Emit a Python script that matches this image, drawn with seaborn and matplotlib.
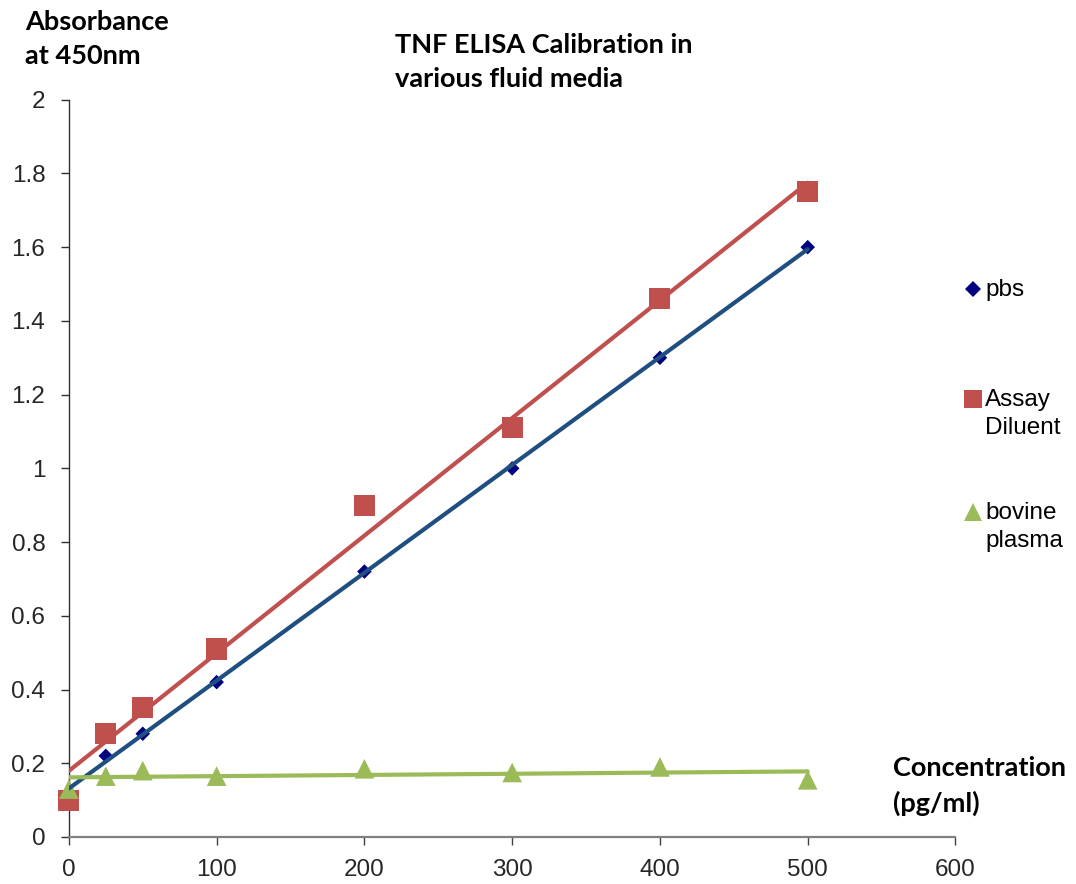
import numpy as np
import pandas as pd
import matplotlib
matplotlib.use("Agg")
import matplotlib.pyplot as plt
from matplotlib.lines import Line2D
import seaborn as sns

# Standard concentrations (pg/ml)
concentration = [0, 25, 50, 100, 200, 300, 400, 500]

# Absorbance at 450 nm for each medium
pbs = [0.12, 0.22, 0.28, 0.42, 0.72, 1.00, 1.30, 1.60]
assay_diluent = [0.10, 0.28, 0.35, 0.51, 0.90, 1.11, 1.46, 1.75]
bovine_plasma = [0.13, 0.165, 0.18, 0.165, 0.185, 0.175, 0.19, 0.155]

series_names = ["pbs", "Assay\nDiluent", "bovine\nplasma"]

sns.set_style("white")
plt.rcParams["font.family"] = ["Liberation Sans", "DejaVu Sans"]

fig = plt.figure(figsize=(10.76, 8.84), dpi=100)
ax = fig.add_axes([0.064, 0.0532, 0.824, 0.834])

styles = [
    (pbs, "#000080", "#1F4E80", "D", 55),
    (assay_diluent, "#C0504D", "#C0504D", "s", 230),
    (bovine_plasma, "#9BBB59", "#9BBB59", "^", 200),
]

for values, mcolor, lcolor, marker, size in styles:
    df = pd.DataFrame({"x": concentration, "y": values})
    sns.scatterplot(data=df, x="x", y="y", ax=ax, marker=marker, s=size,
                    color=mcolor, edgecolor="none", zorder=3, clip_on=False)
    sns.regplot(data=df, x="x", y="y", ax=ax, scatter=False, ci=None,
                truncate=True, color=lcolor, line_kws={"lw": 3.0, "zorder": 4})

ax.set_xlim(0, 600)
ax.set_ylim(0, 2)
ax.set_xticks(np.arange(0, 601, 100))
ax.set_yticks([0, 0.2, 0.4, 0.6, 0.8, 1, 1.2, 1.4, 1.6, 1.8, 2])
ax.set_yticklabels(["0", "0.2", "0.4", "0.6", "0.8", "1", "1.2", "1.4", "1.6", "1.8", "2"])
ax.set_xlabel("")
ax.set_ylabel("")
ax.tick_params(axis="y", labelsize=17.5, length=6, width=1, color="#303030",
               direction="out", left=True, pad=11)
ax.tick_params(axis="x", labelsize=17.5, length=6, width=1, color="#404040",
               direction="out", bottom=True, pad=10)
for side in ["top", "right"]:
    ax.spines[side].set_visible(False)
ax.spines["left"].set_color("#303030")
ax.spines["left"].set_linewidth(1.0)
ax.spines["bottom"].set_color("#808080")
ax.spines["bottom"].set_linewidth(1.6)

bold = dict(family=["Lato", "DejaVu Sans"], fontweight="bold", fontsize=19.5,
            color="black", linespacing=1.5)
fig.text(25 / 1076, 1 - 10 / 884, "Absorbance\nat 450nm", ha="left", va="top", **bold)
fig.text(395 / 1076, 1 - 33 / 884, "TNF ELISA Calibration in\nvarious fluid media",
         ha="left", va="top", **bold)
fig.text(893 / 1076, 1 - 756 / 884, "Concentration\n(pg/ml)", ha="left", va="top", **bold)

# Legend entries placed along the right margin
legend_rows = [289, 399, 512]
for (values, mcolor, lcolor, marker, size), name, ypx in zip(styles, series_names, legend_rows):
    yf = 1 - ypx / 884
    ms = {"D": 8, "s": 13, "^": 13}[marker]
    fig.add_artist(Line2D([973 / 1076], [yf], marker=marker, color=mcolor,
                          markersize=ms, markeredgewidth=0, linestyle="none",
                          transform=fig.transFigure))
    fig.text(985 / 1076, yf + 0.011, name, ha="left", va="top", fontsize=17.5,
             linespacing=1.35, color="black")

fig.savefig("out.png", dpi=100)
